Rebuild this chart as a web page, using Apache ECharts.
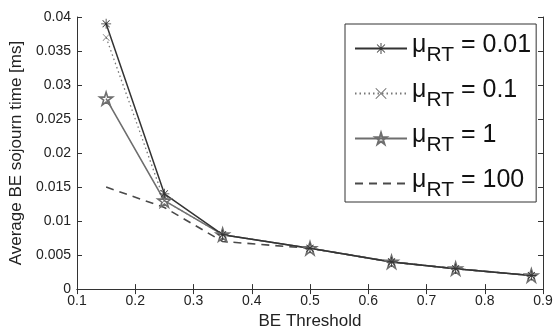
<!DOCTYPE html>
<html>
<head>
<meta charset="utf-8">
<script src="https://cdn.jsdelivr.net/npm/echarts@6/dist/echarts.min.js"></script>
<style>
  html, body { margin: 0; padding: 0; background: #fff; }
  #chart { width: 558px; height: 335px; }
</style>
</head>
<body>
<div id="chart"></div>
<script>
const thresholds = [0.15, 0.25, 0.35, 0.5, 0.64, 0.75, 0.88];
const mu001 = [0.039, 0.014, 0.008, 0.006, 0.004, 0.003, 0.002];
const mu01 = [0.037, 0.013, 0.008, 0.006, 0.004, 0.003, 0.002];
const mu1 = [0.028, 0.013, 0.008, 0.006, 0.004, 0.003, 0.002];
const mu100 = [0.015, 0.012, 0.007, 0.006, 0.004, 0.003, 0.002];
const seriesNames = ['0.01', '0.1', '1', '100'];

const asterisk = 'path://M-0.8,-10L0.8,-10L0.8,10L-0.8,10Z M-10,-0.8L10,-0.8L10,0.8L-10,0.8Z ' +
  'M-7.6,-6.5L-6.5,-7.6L7.6,6.5L6.5,7.6Z M6.5,-7.6L7.6,-6.5L-6.5,7.6L-7.6,6.5Z';
const cross = 'path://M-10,-8.8L-8.8,-10L10,8.8L8.8,10Z M8.8,-10L10,-8.8L-8.8,10L-10,8.8Z';
const star = 'path://M0,-10L2.245,-3.09L9.511,-3.09L3.633,1.18L5.878,8.09L0,3.82L-5.878,8.09L-3.633,1.18L-9.511,-3.09L-2.245,-3.09Z';

const pairs = (ys) => thresholds.map((x, i) => [x, ys[i]]);

const chart = echarts.init(document.getElementById('chart'));

const font = 'Liberation Sans, Arial';
const axisText = { color: '#222', fontFamily: font, fontSize: 14 };

chart.setOption({
  animation: false,
  grid: { left: 77, right: 15, top: 17, bottom: 40 },
  xAxis: [
    {
      type: 'value', min: 0.1, max: 0.9, interval: 0.1,
      name: 'BE Threshold', nameLocation: 'middle', nameGap: 22,
      nameTextStyle: { color: '#222', fontFamily: font, fontSize: 17 },
      axisLine: { show: true, lineStyle: { color: '#333' } },
      axisTick: { inside: true, length: 5, lineStyle: { color: '#333' } },
      axisLabel: Object.assign({ margin: 5, formatter: (v) => +v.toFixed(1) + '' }, axisText),
      splitLine: { show: false }
    },
    {
      type: 'value', position: 'top', min: 0.1, max: 0.9, interval: 0.1,
      axisLine: { show: true, lineStyle: { color: '#333' } },
      axisTick: { inside: true, length: 5, lineStyle: { color: '#333' } },
      axisLabel: { show: false },
      splitLine: { show: false }
    }
  ],
  yAxis: [
    {
      type: 'value', min: 0, max: 0.04, interval: 0.005,
      name: 'Average BE sojourn time [ms]', nameLocation: 'middle', nameGap: 45,
      nameTextStyle: { color: '#222', fontFamily: font, fontSize: 17 },
      axisLine: { show: true, lineStyle: { color: '#333' } },
      axisTick: { inside: true, length: 5, lineStyle: { color: '#333' } },
      axisLabel: Object.assign({ margin: 6, formatter: (v) => +v.toFixed(3) + '' }, axisText),
      splitLine: { show: false }
    },
    {
      type: 'value', position: 'right', min: 0, max: 0.04, interval: 0.005,
      axisLine: { show: true, lineStyle: { color: '#333' } },
      axisTick: { inside: true, length: 5, lineStyle: { color: '#333' } },
      axisLabel: { show: false },
      splitLine: { show: false }
    }
  ],
  legend: {
    data: [
      { name: seriesNames[0] },
      { name: seriesNames[1] },
      { name: seriesNames[2] },
      { name: seriesNames[3], itemStyle: { opacity: 0 } }
    ],
    orient: 'vertical',
    left: 345, top: 24,
    padding: [9, 5, 1, 9],
    itemGap: 12,
    itemWidth: 52, itemHeight: 14,
    backgroundColor: '#fff',
    borderColor: '#333', borderWidth: 1,
    formatter: (name) => '{mu|μ}{sub|RT}{eq| = ' + name + '}',
    textStyle: {
      color: '#111',
      fontFamily: font,
      rich: {
        mu: { fontSize: 25, fontFamily: font, color: '#111', padding: [0, 0, 6, 0] },
        sub: { fontSize: 21, fontFamily: font, color: '#111', padding: [14, 0, 0, 0] },
        eq: { fontSize: 25, fontFamily: font, color: '#111', padding: [0, 0, 6, 0] }
      }
    }
  },
  series: [
    {
      name: '100', type: 'line', data: pairs(mu100),
      symbol: 'none',
      lineStyle: { color: '#4a4a4a', width: 1.6, type: [8, 6] },
      itemStyle: { color: '#4a4a4a' }
    },
    {
      name: '1', type: 'line', data: pairs(mu1),
      symbol: star, symbolSize: 13,
      lineStyle: { color: '#6e6e6e', width: 1.6 },
      itemStyle: { color: 'rgba(255,255,255,0)', borderColor: '#6e6e6e', borderWidth: 1.6 }
    },
    {
      name: '0.1', type: 'line', data: pairs(mu01),
      symbol: cross, symbolSize: 7,
      lineStyle: { color: '#777', width: 1.3, type: [1.5, 3] },
      itemStyle: { color: '#666' }
    },
    {
      name: '0.01', type: 'line', data: pairs(mu001),
      symbol: asterisk, symbolSize: 10,
      lineStyle: { color: '#333', width: 1.5 },
      itemStyle: { color: '#333' }
    }
  ]
});
</script>
</body>
</html>
